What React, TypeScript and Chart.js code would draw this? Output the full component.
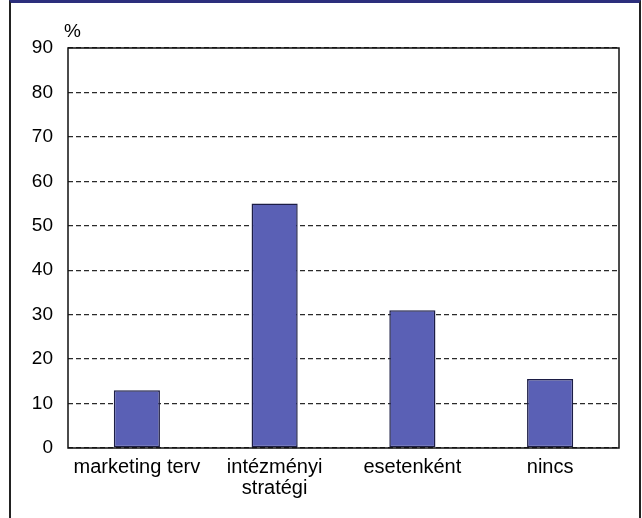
import React, { useEffect, useRef } from "react";
import { Chart, registerables } from "chart.js";

Chart.register(...registerables);

const categories: (string | string[])[] = ["marketing terv", ["intézményi", "stratégi"], "esetenként", "nincs"];
const values: number[] = [13, 55, 31, 15.5];
const yTicks: number[] = [0, 10, 20, 30, 40, 50, 60, 70, 80, 90];
const unitLabel = "%";

const FONT = "'Liberation Sans', Arial, Helvetica, sans-serif";

export default function App() {
  const ref = useRef<HTMLCanvasElement | null>(null);
  useEffect(() => {
    if (!ref.current) return;
    const framePlugin = {
      id: "framePlugin",
      afterDraw(chart: any) {
        const { ctx, chartArea } = chart;
        ctx.save();
        ctx.strokeStyle = "#111";
        ctx.lineWidth = 1.5;
        ctx.setLineDash([]);
        ctx.strokeRect(chartArea.left, chartArea.top, chartArea.right - chartArea.left, chartArea.bottom - chartArea.top);
        ctx.fillStyle = "#000";
        ctx.font = `19px ${FONT}`;
        ctx.textAlign = "left";
        ctx.textBaseline = "alphabetic";
        ctx.fillText(unitLabel, chartArea.left - 4, chartArea.top - 11);
        ctx.restore();
      },
    };
    const chart = new Chart(ref.current, {
      type: "bar",
      data: {
        labels: categories as any,
        datasets: [
          {
            data: values,
            backgroundColor: "#5a60b5",
            borderColor: "#1c1d45",
            borderWidth: 1.5,
            borderSkipped: false,
            barPercentage: 0.335,
            categoryPercentage: 1,
          },
        ],
      },
      options: {
        animation: false,
        responsive: false,
        maintainAspectRatio: false,
        layout: { padding: { left: 0, right: 23, top: 48, bottom: 4 } },
        plugins: { legend: { display: false }, tooltip: { enabled: false } },
        scales: {
          x: {
            grid: { display: false, drawTicks: false },
            border: { display: false },
            ticks: {
              color: "#000",
              font: { family: FONT, size: 20, lineHeight: 1.05 },
              padding: 9,
              maxRotation: 0,
              autoSkip: false,
            },
            afterFit(scale: any) {
              scale.height = 66;
            },
          },
          y: {
            min: 0,
            max: 90,
            afterBuildTicks(scale: any) {
              scale.ticks = yTicks.map((v) => ({ value: v }));
            },
            grid: { color: "#2a2a2a", lineWidth: 1.3, drawTicks: false },
            border: { display: false, dash: [5, 3] },
            ticks: { color: "#000", font: { family: FONT, size: 19 }, padding: 15 },
            afterFit(scale: any) {
              scale.width = 68;
            },
          },
        },
      },
      plugins: [framePlugin],
    });
    return () => chart.destroy();
  }, []);
  return (
    <div style={{ position: "fixed", left: 0, top: 0, width: 642, height: 518, background: "#fff" }}>
      <div
        style={{
          position: "absolute",
          left: 9,
          top: 0,
          width: 632,
          height: 518,
          boxSizing: "border-box",
          borderLeft: "2px solid #222",
          borderRight: "2px solid #222",
          borderTop: "3px solid #2c2f7c",
        }}
      />
      <canvas ref={ref} width={642} height={518} style={{ position: "absolute", left: 0, top: 0, width: 642, height: 518 }} />
    </div>
  );
}
